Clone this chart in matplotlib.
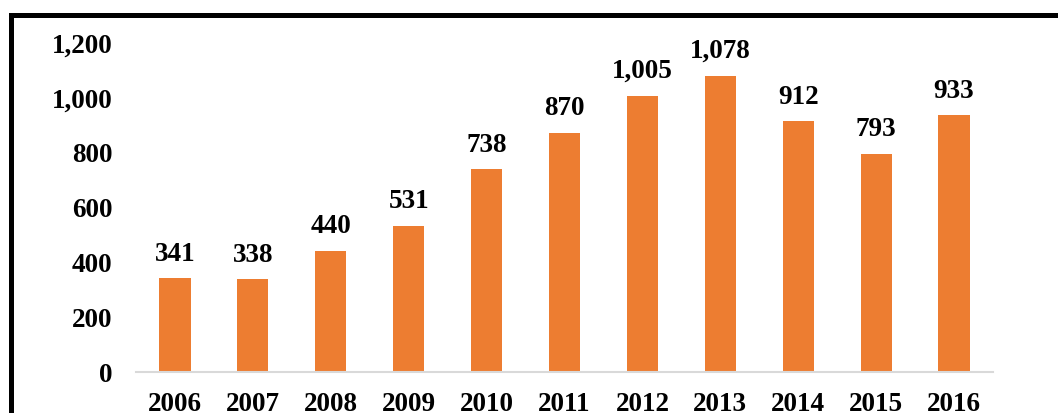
import matplotlib.pyplot as plt
from matplotlib.patches import Rectangle

years = ['2006', '2007', '2008', '2009', '2010', '2011',
         '2012', '2013', '2014', '2015', '2016']
counts = [341, 338, 440, 531, 738, 870, 1005, 1078, 912, 793, 933]
y_ticks = [0, 200, 400, 600, 800, 1000, 1200]

plt.rcParams['font.family'] = ['Liberation Serif', 'DejaVu Serif']
plt.rcParams['font.weight'] = 'bold'
fs = 19.5

fig = plt.figure(figsize=(10.58, 4.14), dpi=100)
ax = fig.add_axes([136 / 1058, 1 - 373 / 414, 857 / 1058, 330 / 414])

x = range(len(years))
bars = ax.bar(x, counts, width=0.4, color='#ED7D31', zorder=2)

for xi, v in zip(x, counts):
    ax.annotate(f'{v:,}', (xi, v), xytext=(0, 9), textcoords='offset points',
                ha='center', va='bottom', fontsize=fs, fontweight='bold')

ax.set_xlim(-0.5, len(years) - 0.5)
ax.set_ylim(0, 1200)
ax.set_xticks(list(x))
ax.set_xticklabels(years, fontsize=fs, fontweight='bold')
ax.set_yticks(y_ticks)
ax.set_yticklabels([f'{t:,}' for t in y_ticks], fontsize=fs, fontweight='bold')
ax.tick_params(axis='both', length=0)
ax.tick_params(axis='y', pad=17)
ax.tick_params(axis='x', pad=14)

for side in ['top', 'right', 'left']:
    ax.spines[side].set_visible(False)
ax.spines['bottom'].set_color('#D9D9D9')
ax.spines['bottom'].set_linewidth(1.5)

# frame around the chart, running off the right and bottom edges
frame = Rectangle((10.5 / 1058, -0.1), 1.2, 1 - 15.5 / 414 + 0.1,
                  transform=fig.transFigure, fill=False,
                  edgecolor='black', linewidth=3.6, clip_on=False)
fig.patches.append(frame)

fig.savefig('out.png', dpi=100)
